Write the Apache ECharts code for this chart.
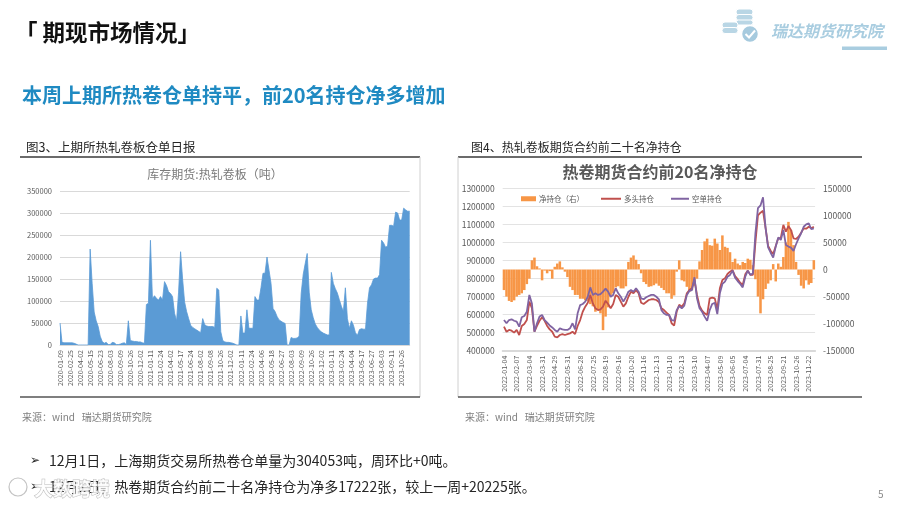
<!DOCTYPE html>
<html>
<head>
<meta charset="utf-8">
<script src="https://cdn.jsdelivr.net/npm/echarts@6/dist/echarts.min.js"></script>
<style>
html,body{margin:0;padding:0;background:#fff;}
#c{width:900px;height:508px;}
</style>
</head>
<body>
<div id="c"></div>
<script>
// ---------- Left chart: SHFE hot-rolled coil warehouse receipts (tonnes) ----------
const leftTickLabels = ['2020-01-09','2020-02-25','2020-04-02','2020-05-15','2020-06-23','2020-08-03','2020-09-09','2020-10-26','2020-12-02','2021-01-11','2021-02-24','2021-04-02','2021-05-17','2021-06-24','2021-08-02','2021-09-08','2021-10-26','2021-12-02','2022-01-11','2022-02-24','2022-04-06','2022-05-18','2022-06-27','2022-08-03','2022-09-09','2022-10-26','2022-12-02','2023-01-11','2023-02-24','2023-04-04','2023-05-17','2023-06-27','2023-08-03','2023-09-11','2023-10-26'];
const stockValues = [
50000,6000,5000,5000,5000,5000,5000,4000,2000,0,
0,0,0,0,0,218000,140000,75000,55000,42000,
20000,8000,4000,6000,1000,1000,6000,5000,1000,1000,
2000,4000,5000,1000,55000,10000,9000,8000,8000,7000,
7000,5000,4000,92000,95000,238000,105000,112000,106000,102000,
110000,102000,144000,135000,121000,117000,110000,72000,55000,120000,
212000,150000,98000,76000,60000,45000,40000,37000,34000,31000,
28000,60000,46000,43000,42000,42000,42000,40000,129000,125000,
30000,10000,7000,6000,6000,5000,4000,2000,0,0,
66000,27000,27000,80000,38000,38000,38000,110000,102000,102000,
130000,163000,163000,200000,170000,140000,83000,76000,65000,57000,
54000,51000,49000,0,0,17000,15000,15000,16000,20000,
117000,160000,185000,208000,120000,80000,62000,48000,40000,34000,
30000,27000,25000,23000,23000,165000,140000,128000,118000,103000,
88000,76000,130000,60000,38000,55000,45000,28000,22000,35000,
37000,36000,36000,95000,130000,137000,150000,152000,152000,160000,
238000,232000,222000,225000,272000,272000,270000,302000,300000,284000,
284000,311000,307000,304000,304053];

// ---------- Right chart: top-20 positions in HRC futures ----------
const rightTickLabels = ['2022-01-04','2022-02-07','2022-03-04','2022-03-31','2022-04-29','2022-05-31','2022-06-28','2022-07-25','2022-08-19','2022-09-16','2022-10-20','2022-11-16','2022-12-13','2023-01-10','2023-02-13','2023-03-10','2023-04-07','2023-05-09','2023-06-05','2023-07-04','2023-07-31','2023-08-25','2023-09-21','2023-10-26','2023-11-22'];
const longPos = [
533000,505000,515000,511000,500000,515000,487000,537000,548000,570000,
672000,635000,505000,537000,566000,585000,566000,537000,518000,505000,
478000,474000,487000,492000,487000,492000,496000,505000,492000,537000,
570000,616000,644000,666000,709000,662000,635000,625000,629000,644000,
677000,659000,635000,659000,709000,699000,672000,644000,662000,699000,
727000,718000,736000,718000,666000,659000,670000,681000,685000,685000,
681000,670000,635000,625000,611000,598000,552000,539000,616000,655000,
644000,662000,718000,736000,746000,792000,709000,648000,622000,607000,
598000,690000,694000,690000,629000,746000,792000,801000,825000,838000,
847000,814000,797000,777000,764000,823000,844000,820000,820000,1000000,
1150000,1165000,1175000,1080000,980000,954000,936000,980000,1023000,1025000,
1097000,1060000,1091000,1069000,1023000,1019000,1032000,1054000,1078000,1076000,
1087000,1078000,1087000];
const shortPos = [
570000,552000,570000,574000,566000,561000,533000,585000,592000,616000,
709000,662000,505000,552000,589000,598000,570000,555000,540000,529000,
515000,505000,524000,518000,515000,515000,524000,552000,518000,607000,
653000,659000,672000,699000,751000,709000,718000,709000,714000,727000,
744000,727000,699000,709000,746000,718000,699000,672000,696000,727000,
736000,727000,746000,727000,690000,685000,696000,703000,709000,709000,
699000,685000,625000,607000,598000,598000,570000,566000,625000,648000,
635000,650000,709000,731000,736000,807000,690000,635000,616000,589000,
566000,625000,659000,666000,603000,718000,770000,783000,810000,820000,
844000,805000,786000,770000,751000,810000,844000,820000,829000,1050000,
1190000,1205000,1250000,1080000,973000,943000,916000,977000,1028000,1014000,
1069000,986000,977000,971000,953000,990000,1023000,1051000,1087000,1100000,
1106000,1073000,1078000];
const netPos = [
-38000,-50000,-58000,-60000,-57000,-50000,-47000,-44000,-38000,-27000,
-17000,17000,22000,6000,2000,-20000,-2000,-7000,-3000,-17000,
5000,11000,15000,4000,-4000,-14000,-32000,-38000,-47000,-47000,
-54000,-54000,-57000,-58000,-64000,-68000,-78000,-75000,-81000,-112000,
-87000,-70000,-47000,-44000,-33000,-31000,-35000,-35000,-31000,14000,
22000,26000,18000,10000,-7000,-23000,-27000,-32000,-31000,-29000,
-26000,-30000,-34000,-38000,-44000,-44000,-54000,-48000,-4000,17000,
-20000,-22000,-32000,-41000,-38000,-30000,-17000,15000,36000,52000,
57000,45000,44000,57000,48000,36000,63000,42000,40000,32000,
14000,20000,11000,8000,14000,12000,20000,18000,8000,-18000,
-50000,-81000,-55000,-36000,-26000,-20000,10000,-22000,11000,5000,
23000,50000,88000,73000,45000,14000,-10000,-30000,-35000,-20000,
-28000,-25000,17222];

const FONT = '"Noto Sans CJK SC","Noto Sans",sans-serif';

function buildCats(labels, n) {
  const out = [];
  for (let i = 0; i < n; i++) {
    const k = Math.min(Math.floor(i / 5), labels.length - 1);
    out.push(i % 5 === 0 ? labels[k] : labels[k] + '\u00b7' + (i % 5));
  }
  return out;
}
const leftCats = buildCats(leftTickLabels, stockValues.length);
const rightCats = buildCats(rightTickLabels, longPos.length);
const every5 = (idx) => idx % 5 === 0;
const plain = (v) => String(v);

function txt(text, x, y, font, fill, align) {
  return { type: 'text', x: x, y: y, silent: true,
    style: { text: text, font: font, fill: fill,
      align: align || 'left', textAlign: align || 'left',
      verticalAlign: 'middle', textVerticalAlign: 'middle' } };
}
function ln(x1, y1, x2, y2, color, w) {
  return { type: 'line', silent: true, shape: { x1, y1, x2, y2 }, style: { stroke: color, lineWidth: w } };
}
function pill(x, y, w, h, fill) {
  return { type: 'rect', silent: true, shape: { x, y, width: w, height: h, r: h / 2 }, style: { fill: fill, stroke: '#fff', lineWidth: 1 } };
}

const chart = echarts.init(document.getElementById('c'), null, { renderer: 'canvas' });
const gray = '#595959';
const option = {
  animation: false,
  backgroundColor: '#ffffff',
  textStyle: { fontFamily: FONT },
  graphic: [
    txt('「 期现市场情况」', 15, 32, 'bold 22.5px ' + FONT, '#111111'),
    txt('本周上期所热卷仓单持平，前20名持仓净多增加', 22, 95, 'bold 20px ' + FONT, '#1f8ac2'),
    // logo
    pill(736, 9, 17, 6, '#b9d6e5'),
    pill(736, 14.5, 17, 6, '#b9d6e5'),
    pill(736, 20, 17, 5, '#b9d6e5'),
    pill(722, 22, 16, 6, '#b9d6e5'),
    pill(722, 27.5, 16, 6, '#b9d6e5'),
    { type: 'circle', silent: true, shape: { cx: 750, cy: 34, r: 8.5 }, style: { fill: '#a6cade', stroke: '#fff', lineWidth: 1.5 } },
    { type: 'polyline', silent: true, shape: { points: [[745.5, 34], [749, 37.5], [755, 30.5]] }, style: { stroke: '#fff', lineWidth: 2, fill: null } },
    txt('瑞达期货研究院', 771, 31, 'italic bold 16px ' + FONT, '#a9cde0'),
    { type: 'rect', silent: true, shape: { x: 842, y: 46.5, width: 45, height: 3.5 }, style: { fill: '#a9cde0' } },
    // left panel
    txt('图3、上期所热轧卷板仓单日报', 26, 147, '12.5px ' + FONT, '#262626'),
    ln(20, 157, 420, 157, '#3a3a3a', 1.5),
    ln(420, 157, 420, 397, '#d0d0d0', 1),
    ln(20, 397, 420, 397, '#555555', 1.5),
    txt('库存期货:热轧卷板（吨）', 215, 174, '12px ' + FONT, '#7a7a7a', 'center'),
    txt('来源：wind   瑞达期货研究院', 22, 417, '10px ' + FONT, '#808080'),
    // right panel
    txt('图4、热轧卷板期货合约前二十名净持仓', 471, 147, '12px ' + FONT, '#262626'),
    ln(458, 157, 862, 157, '#3a3a3a', 1.5),
    ln(458, 157, 458, 397, '#d0d0d0', 1),
    ln(458, 397, 862, 397, '#555555', 1.5),
    txt('热卷期货合约前20名净持仓', 660, 172, 'bold 16px ' + FONT, '#595959', 'center'),
    txt('来源：wind   瑞达期货研究院', 465, 417, '10px ' + FONT, '#808080'),
    // bullets
    txt('➢', 30, 461, '12px "DejaVu Sans",' + FONT, '#262626'),
    txt('12月1日，上海期货交易所热卷仓单量为304053吨，周环比+0吨。', 49, 461, '14px ' + FONT, '#262626'),
    txt('➢', 30, 487, '12px "DejaVu Sans",' + FONT, '#262626'),
    txt('12月1日，热卷期货合约前二十名净持仓为净多17222张，较上一周+20225张。', 49, 487, '14px ' + FONT, '#262626'),
    txt('5', 878, 494, '10px ' + FONT, '#8c8c8c'),
    // watermark
    { type: 'circle', silent: true, z: 100, shape: { cx: 18, cy: 487, r: 9 }, style: { fill: 'rgba(255,255,255,0.75)', stroke: 'rgba(170,170,170,0.7)', lineWidth: 1.2 } },
    { type: 'text', x: 34, y: 489, z: 100, silent: true, style: { text: '大数跨境', font: 'bold 19px ' + FONT, fill: 'rgba(255,255,255,0.85)', stroke: 'rgba(160,160,160,0.7)', lineWidth: 1, align: 'left', textAlign: 'left', verticalAlign: 'middle', textVerticalAlign: 'middle' } }
  ],
  legend: [
    { data: [{ name: '净持仓（右）', icon: 'rect' }], left: 521, top: 195, padding: 0, itemWidth: 15, itemHeight: 5, itemGap: 0, selectedMode: false, textStyle: { fontSize: 7.5, color: gray, padding: [0, 0, 0, -2] } },
    { data: [{ name: '多头持仓', icon: 'rect' }], left: 601, top: 195, padding: 0, itemWidth: 20, itemHeight: 2, itemGap: 0, selectedMode: false, textStyle: { fontSize: 7.5, color: gray, padding: [0, 0, 0, -2] } },
    { data: [{ name: '空单持仓', icon: 'rect' }], left: 671, top: 195, padding: 0, itemWidth: 18, itemHeight: 2, itemGap: 0, selectedMode: false, textStyle: { fontSize: 7.5, color: gray, padding: [0, 0, 0, -2] } }
  ],
  grid: [
    { left: 60, top: 191, width: 349.7, height: 154, containLabel: false },
    { left: 502.7, top: 188.3, width: 312.4, height: 162.4, containLabel: false }
  ],
  xAxis: [
    { type: 'category', gridIndex: 0, data: leftCats, boundaryGap: false,
      axisLine: { show: true, lineStyle: { color: '#d9d9d9', width: 1 } },
      axisTick: { show: false },
      axisLabel: { interval: every5, rotate: 90, fontSize: 7, color: gray, margin: 5 } },
    { type: 'category', gridIndex: 1, data: rightCats, boundaryGap: true,
      axisLine: { show: true, onZero: false, lineStyle: { color: '#d9d9d9', width: 2 } },
      axisTick: { show: false },
      axisLabel: { interval: every5, rotate: 90, fontSize: 7, color: gray, margin: 5 } }
  ],
  yAxis: [
    { type: 'value', gridIndex: 0, min: 0, max: 350000, interval: 50000,
      axisLine: { show: false }, axisTick: { show: false },
      splitLine: { lineStyle: { color: '#d9d9d9', width: 1 } },
      axisLabel: { fontSize: 7.5, color: gray, margin: 8, formatter: plain } },
    { type: 'value', gridIndex: 1, min: 400000, max: 1300000, interval: 100000,
      axisLine: { show: false }, axisTick: { show: false },
      splitLine: { lineStyle: { color: '#e3e3e3', width: 1 } },
      axisLabel: { fontSize: 8.5, color: gray, margin: 8, formatter: plain } },
    { type: 'value', gridIndex: 1, position: 'right', min: -150000, max: 150000, interval: 50000,
      axisLine: { show: false }, axisTick: { show: false }, splitLine: { show: false },
      axisLabel: { fontSize: 8.5, color: gray, margin: 8, formatter: plain } }
  ],
  series: [
    { name: '仓单', type: 'line', xAxisIndex: 0, yAxisIndex: 0, data: stockValues,
      showSymbol: false, symbol: 'none', color: '#5b9bd5',
      lineStyle: { color: '#5b9bd5', width: 0.8 },
      areaStyle: { color: '#5b9bd5', opacity: 1 } },
    { name: '净持仓（右）', type: 'bar', xAxisIndex: 1, yAxisIndex: 2, data: netPos,
      color: '#f79646', itemStyle: { color: '#f79646' }, barCategoryGap: '0%' },
    { name: '多头持仓', type: 'line', xAxisIndex: 1, yAxisIndex: 1, data: longPos,
      showSymbol: false, symbol: 'none', color: '#c0504d',
      lineStyle: { color: '#c0504d', width: 1.8 } },
    { name: '空单持仓', type: 'line', xAxisIndex: 1, yAxisIndex: 1, data: shortPos,
      showSymbol: false, symbol: 'none', color: '#8064a2',
      lineStyle: { color: '#8064a2', width: 1.8 } }
  ]
};
chart.setOption(option);
</script>
</body>
</html>
